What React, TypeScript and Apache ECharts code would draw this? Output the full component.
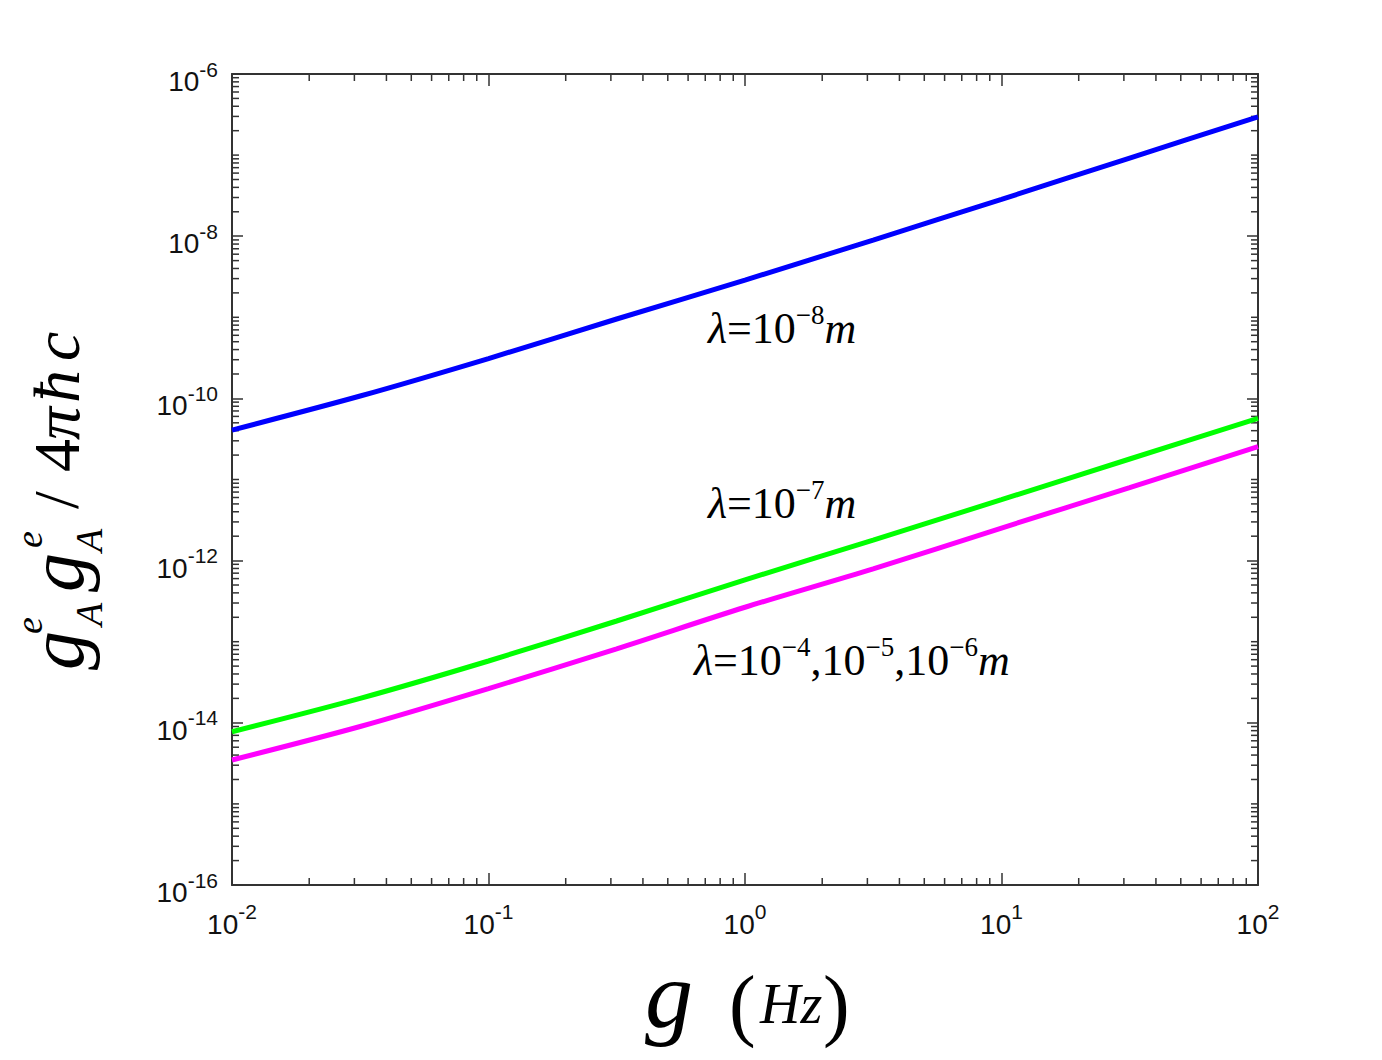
import React, { useEffect, useRef } from "react";
import * as echarts from "echarts";

// frequency (Hz)
const xValues = [0.01, 0.0316, 0.1, 0.316, 1, 3.16, 10, 31.6, 100];
// lambda = 1e-8 m
const blueValues = [4.07e-11, 1.07e-10, 3.1e-10, 9.53e-10, 2.88e-9, 8.97e-9, 2.85e-8, 9.2e-8, 2.97e-7];
// lambda = 1e-7 m
const greenValues = [7.76e-15, 2.0e-14, 5.78e-14, 1.8e-13, 5.79e-13, 1.79e-12, 5.64e-12, 1.79e-11, 5.69e-11];
// lambda = 1e-4, 1e-5, 1e-6 m
const magentaValues = [3.48e-15, 9.0e-15, 2.64e-14, 8.18e-14, 2.66e-13, 7.91e-13, 2.52e-12, 7.96e-12, 2.54e-11];

const X_MIN = 0.01;
const X_MAX = 100;
const Y_MIN = 1e-16;
const Y_MAX = 1e-6;
const xDecades = [-2, -1, 0, 1];
const yDecades = [-16, -15, -14, -13, -12, -11, -10, -9, -8, -7];
const minorMultipliers = [2, 3, 4, 5, 6, 7, 8, 9];

const AXIS = "#333333";
const TEXT = "#111";
const SANS = "Liberation Sans";
const SERIF = "Liberation Serif";

export default function App() {
  const ref = useRef<HTMLDivElement>(null);
  useEffect(() => {
    const chart = echarts.init(ref.current!, null, { renderer: "svg" });

    const xMinor: number[] = [];
    xDecades.forEach((d) => minorMultipliers.forEach((m) => xMinor.push(m * Math.pow(10, d))));
    const yMinor: number[] = [];
    yDecades.forEach((d) => {
      const ms = d % 2 === 0 ? minorMultipliers : [1, ...minorMultipliers];
      ms.forEach((m) => yMinor.push(m * Math.pow(10, d)));
    });

    const pair = (ys: number[]) => xValues.map((x, i) => [x, ys[i]]);
    const expLabel = (v: number) => {
      const e = Math.round(Math.log10(v));
      return `{b|10}{s|${e}}`;
    };
    const labelRich = {
      b: { fontSize: 28, fontFamily: SANS, color: TEXT, lineHeight: 37, verticalAlign: "bottom" },
      s: { fontSize: 21, fontFamily: SANS, color: TEXT, verticalAlign: "top" },
    };

    const tickLine = (x1: number, y1: number, x2: number, y2: number) => ({
      type: "line",
      shape: { x1, y1, x2, y2 },
      style: { stroke: AXIS, lineWidth: 1.5 },
    });

    const lineSeries = (data: number[][], color: string) => ({
      type: "line",
      data,
      smooth: 0.3,
      showSymbol: false,
      symbol: "none",
      lineStyle: { color, width: 5 },
      itemStyle: { color },
      z: 5,
    });

    const annStyles = {
      i: { fontSize: 44, fontFamily: SERIF, fontStyle: "italic", lineHeight: 49, verticalAlign: "bottom", fill: "#000", color: "#000" },
      n: { fontSize: 44, fontFamily: SERIF, lineHeight: 49, verticalAlign: "bottom", fill: "#000", color: "#000" },
      s: { fontSize: 27, fontFamily: SERIF, verticalAlign: "top", fill: "#000", color: "#000" },
    };
    const ann = (x: number, y: number, text: string) => ({
      type: "text",
      x,
      y,
      style: {
        text,
        rich: annStyles,
        fill: "#000",
        align: "left",
        textAlign: "left",
        verticalAlign: "middle",
        textVerticalAlign: "middle",
      },
    });
    const glyph = (x: number, y: number, text: string, size: number, italic: boolean) => ({
      type: "text",
      x,
      y,
      style: {
        text,
        font: `${italic ? "italic " : ""}${size}px "${SERIF}"`,
        fill: "#000",
        align: "left",
        textAlign: "left",
        verticalAlign: "middle",
        textVerticalAlign: "middle",
      },
    });

    const baseX = {
      type: "log",
      logBase: 10,
      min: X_MIN,
      max: X_MAX,
      interval: 1,
      axisLine: { show: true, lineStyle: { color: AXIS, width: 2 } },
      axisTick: { show: true, inside: true, length: 12, lineStyle: { color: AXIS, width: 1.5 } },
      splitLine: { show: false },
      minorTick: { show: false },
      minorSplitLine: { show: false },
    };
    const baseY = {
      type: "log",
      logBase: 10,
      min: Y_MIN,
      max: Y_MAX,
      interval: 2,
      axisLine: { show: true, lineStyle: { color: AXIS, width: 2 } },
      axisTick: { show: true, inside: true, length: 11, lineStyle: { color: AXIS, width: 1.5 } },
      splitLine: { show: false },
      minorTick: { show: false },
      minorSplitLine: { show: false },
    };

    const option: any = {
      animation: false,
      backgroundColor: "#fff",
      grid: { left: 232, right: 124, top: 74, bottom: 175, containLabel: false, outerBoundsMode: "none" },
      xAxis: [
        {
          ...baseX,
          position: "bottom",
          axisLabel: { show: true, margin: 16, formatter: expLabel, rich: labelRich },
        },
        { ...baseX, position: "top", axisLabel: { show: false } },
      ],
      yAxis: [
        {
          ...baseY,
          position: "left",
          axisLabel: { show: true, margin: 14, padding: [6, 0, 0, 0], formatter: expLabel, rich: labelRich },
        },
        { ...baseY, position: "right", axisLabel: { show: false } },
      ],
      series: [
        lineSeries(pair(blueValues), "#0000ff"),
        lineSeries(pair(greenValues), "#00ff00"),
        lineSeries(pair(magentaValues), "#ff00ff"),
        {
          type: "custom",
          silent: true,
          clip: false,
          data: xMinor.map((v) => [v, Y_MIN]),
          renderItem: (_p: any, api: any) => {
            const v = api.value(0);
            const b = api.coord([v, Y_MIN]);
            const t = api.coord([v, Y_MAX]);
            return {
              type: "group",
              children: [tickLine(b[0], b[1], b[0], b[1] - 7), tickLine(t[0], t[1], t[0], t[1] + 7)],
            };
          },
          z: 3,
        },
        {
          type: "custom",
          silent: true,
          clip: false,
          data: yMinor.map((v) => [X_MIN, v]),
          renderItem: (_p: any, api: any) => {
            const v = api.value(1);
            const l = api.coord([X_MIN, v]);
            const r = api.coord([X_MAX, v]);
            return {
              type: "group",
              children: [tickLine(l[0], l[1], l[0] + 7, l[1]), tickLine(r[0], r[1], r[0] - 7, r[1])],
            };
          },
          z: 3,
        },
      ],
      graphic: [
        ann(708, 326, "{i|λ}{n|=10}{s|−8}{i|m}"),
        ann(708, 501, "{i|λ}{n|=10}{s|−7}{i|m}"),
        ann(694, 658, "{i|λ}{n|=10}{s|−4}{n|,10}{s|−5}{n|,10}{s|−6}{i|m}"),
        // x axis title
        glyph(645, 994, "g", 96, true),
        glyph(729, 1004, "(", 80, false),
        glyph(760, 1004, "Hz", 56, true),
        glyph(823, 1004, ")", 80, false),
        // y axis title, rotated
        {
          type: "group",
          x: 56,
          y: 670,
          rotation: Math.PI / 2,
          children: [
            glyph(0, 0, "g", 78, true),
            glyph(36, -27, "e", 38, true),
            glyph(44, 33, "A", 38, true),
            glyph(78, 0, "g", 78, true),
            glyph(122, -27, "e", 38, true),
            glyph(118, 33, "A", 38, true),
            glyph(161, 0, "/", 64, false),
            glyph(198, 0, "4", 66, false),
            glyph(230, 0, "π", 66, true),
            glyph(267, 0, "ħ", 66, true),
            glyph(309, 0, "c", 66, true),
          ],
        },
      ],
    };

    chart.setOption(option);
    return () => chart.dispose();
  }, []);

  return (
    <div
      ref={ref}
      style={{ position: "absolute", left: 0, top: 0, width: 1382, height: 1060, background: "#fff" }}
    />
  );
}
